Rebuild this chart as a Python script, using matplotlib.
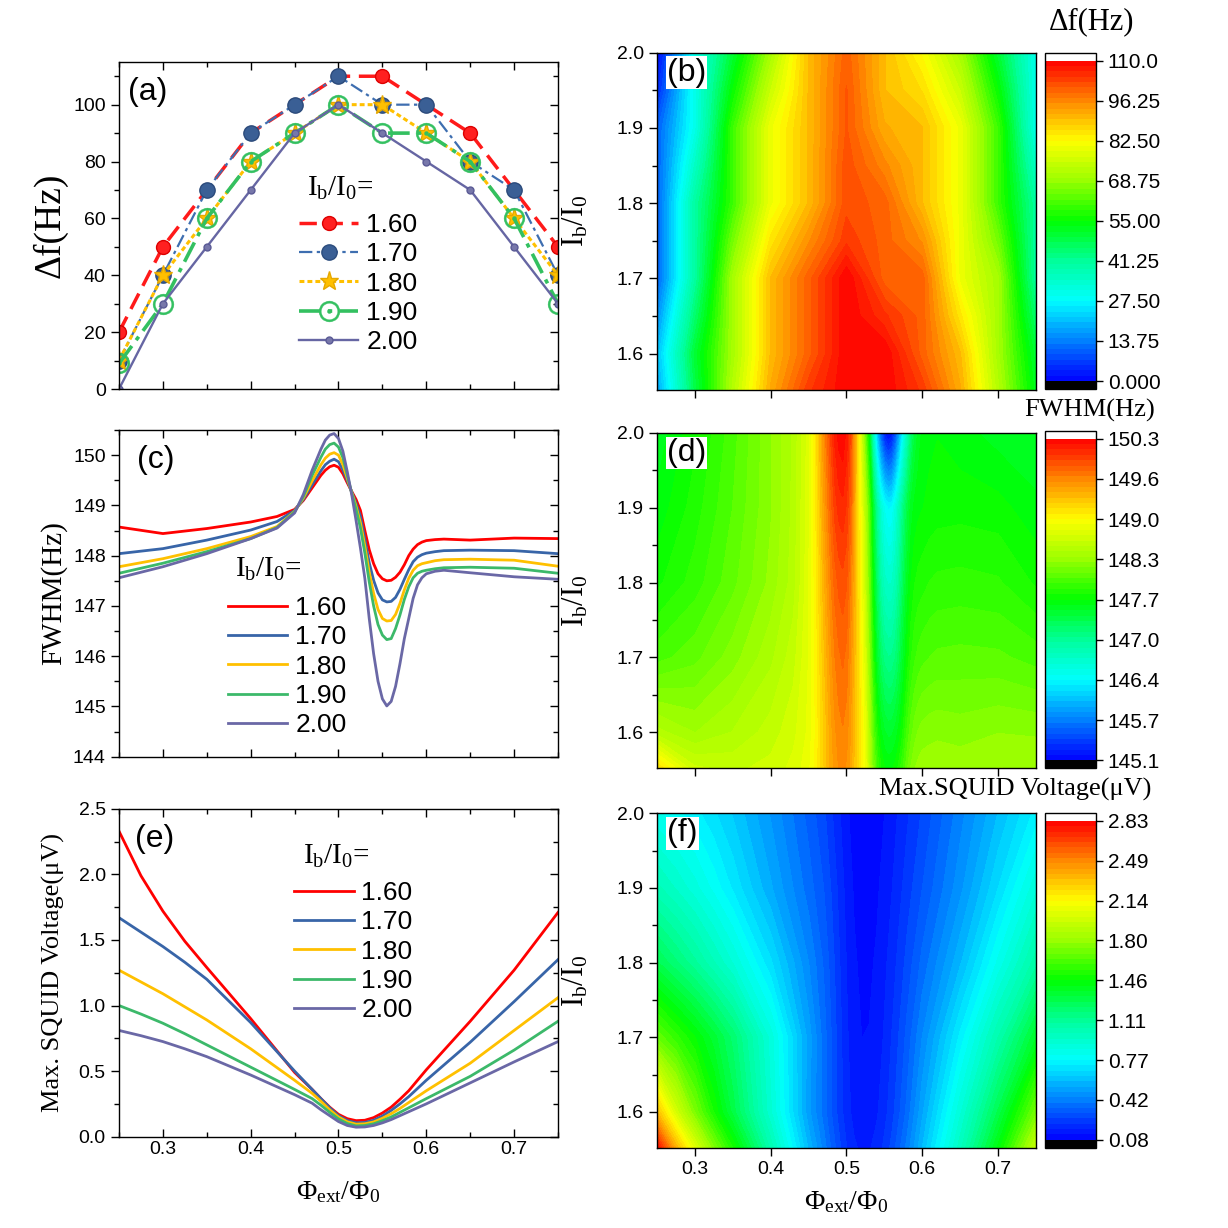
import matplotlib.pyplot as plt
import numpy as np
from matplotlib.colors import LinearSegmentedColormap
from matplotlib.ticker import MultipleLocator

plt.rcParams['font.family'] = ['Liberation Sans', 'DejaVu Sans']
plt.rcParams['mathtext.default'] = 'regular'
plt.rcParams['axes.linewidth'] = 1.0
SERIF = ['Liberation Serif', 'DejaVu Serif']

## ---------------- data ----------------
ib_labels = ['1.60', '1.70', '1.80', '1.90', '2.00']

# (a) frequency shift vs flux
phi_a = [0.25, 0.30, 0.35, 0.40, 0.45, 0.50, 0.55, 0.60, 0.65, 0.70, 0.75]
df_160 = [20, 50, 70, 90, 100, 110, 110, 100, 90, 70, 50]
df_170 = [10, 40, 70, 90, 100, 110, 100, 100, 80, 70, 40]
df_180 = [10, 40, 60, 80, 90, 100, 100, 90, 80, 60, 40]
df_190 = [9, 30, 60, 80, 90, 100, 90, 90, 80, 60, 30]
df_200 = [0, 30, 50, 70, 90, 100, 90, 80, 70, 50, 30]

# (b) frequency shift map
ib_b = [1.55, 1.60, 1.65, 1.70, 1.75, 1.80, 1.85, 1.90, 1.95, 2.00]
df_map = [
    [17, 48, 72, 92, 104, 110, 110, 104, 92, 72, 52],
    [20, 50, 70, 90, 100, 110, 110, 100, 90, 70, 50],
    [15, 45, 70, 90, 100, 110, 105, 100, 85, 70, 45],
    [10, 40, 70, 90, 100, 110, 100, 100, 80, 70, 40],
    [10, 40, 65, 85, 95, 104, 100, 95, 80, 65, 40],
    [10, 40, 60, 80, 90, 102, 100, 90, 80, 60, 40],
    [10, 35, 60, 80, 90, 102, 96, 90, 80, 60, 35],
    [10, 30, 60, 80, 90, 101, 92, 90, 80, 60, 30],
    [4, 30, 55, 75, 90, 101, 90, 86, 75, 55, 30],
    [0, 30, 50, 70, 90, 100, 90, 82, 70, 50, 30],
]

# (c) FWHM vs flux
phi_c = [0.25, 0.30, 0.35, 0.40, 0.43, 0.45, 0.46, 0.47, 0.48, 0.485, 0.49, 0.495, 0.50,
         0.505, 0.51, 0.515, 0.52, 0.525, 0.53, 0.535, 0.54, 0.545, 0.55, 0.555, 0.56,
         0.565, 0.57, 0.575, 0.58, 0.585, 0.59, 0.595, 0.60, 0.61, 0.62, 0.65, 0.70, 0.75]
fw_155 = [149.30, 148.75, 148.70, 148.75, 148.84, 148.96, 149.12, 149.34, 149.57, 149.66,
          149.72, 149.74, 149.70, 149.59, 149.43, 149.28, 149.14, 148.95, 148.60, 148.26,
          148.00, 147.82, 147.73, 147.70, 147.71, 147.76, 147.86, 148.00, 148.15, 148.27,
          148.35, 148.39, 148.41, 148.42, 148.43, 148.42, 148.45, 148.44]
fw_160 = [148.57, 148.44, 148.54, 148.67, 148.78, 148.92, 149.10, 149.35, 149.60, 149.70,
          149.77, 149.80, 149.76, 149.63, 149.45, 149.28, 149.12, 148.90, 148.50, 148.12,
          147.84, 147.64, 147.54, 147.50, 147.51, 147.57, 147.67, 147.82, 148.00, 148.13,
          148.22, 148.27, 148.30, 148.32, 148.33, 148.31, 148.35, 148.34]
fw_170 = [148.04, 148.14, 148.31, 148.51, 148.68, 148.90, 149.12, 149.41, 149.69, 149.81,
          149.88, 149.92, 149.87, 149.71, 149.49, 149.27, 149.04, 148.78, 148.33, 147.86,
          147.51, 147.26, 147.12, 147.08, 147.09, 147.17, 147.33, 147.53, 147.72, 147.88,
          147.97, 148.02, 148.05, 148.08, 148.10, 148.11, 148.10, 148.04]
fw_180 = [147.78, 147.94, 148.14, 148.38, 148.58, 148.88, 149.15, 149.49, 149.81, 149.94,
          150.02, 150.05, 150.00, 149.81, 149.54, 149.26, 148.98, 148.65, 148.19, 147.67,
          147.25, 146.93, 146.75, 146.70, 146.71, 146.83, 147.05, 147.32, 147.55, 147.71,
          147.80, 147.84, 147.86, 147.90, 147.92, 147.93, 147.91, 147.79]
fw_190 = [147.65, 147.85, 148.08, 148.34, 148.56, 148.87, 149.18, 149.60, 149.96, 150.12,
          150.21, 150.24, 150.16, 149.95, 149.60, 149.25, 148.92, 148.55, 148.05, 147.48,
          147.00, 146.63, 146.42, 146.33, 146.35, 146.55, 146.82, 147.13, 147.38, 147.56,
          147.65, 147.69, 147.71, 147.74, 147.76, 147.77, 147.75, 147.65]
fw_200 = [147.56, 147.78, 148.04, 148.34, 148.55, 148.85, 149.22, 149.70, 150.12, 150.30,
          150.40, 150.43, 150.33, 150.08, 149.67, 149.22, 148.70, 148.15, 147.55, 146.75,
          146.05, 145.50, 145.15, 145.01, 145.10, 145.40, 145.85, 146.35, 146.75, 147.15,
          147.42, 147.56, 147.64, 147.69, 147.71, 147.66, 147.58, 147.53]

# (e) max SQUID voltage vs flux
phi_e = [0.25, 0.275, 0.30, 0.325, 0.35, 0.40, 0.45, 0.47, 0.48, 0.49, 0.50, 0.51, 0.52,
         0.53, 0.54, 0.55, 0.56, 0.57, 0.58, 0.60, 0.65, 0.70, 0.75]
v_155 = [2.83, 2.38, 2.04, 1.74, 1.50, 1.02, 0.56, 0.41, 0.33, 0.26, 0.20, 0.16, 0.145,
         0.148, 0.17, 0.21, 0.26, 0.33, 0.40, 0.57, 0.97, 1.42, 1.95]
v_160 = [2.33, 1.99, 1.72, 1.49, 1.29, 0.90, 0.49, 0.36, 0.29, 0.225, 0.17, 0.137, 0.122,
         0.125, 0.145, 0.18, 0.225, 0.285, 0.35, 0.51, 0.88, 1.27, 1.71]
v_170 = [1.67, 1.56, 1.45, 1.33, 1.20, 0.87, 0.50, 0.36, 0.29, 0.22, 0.16, 0.123, 0.106,
         0.108, 0.125, 0.157, 0.20, 0.25, 0.305, 0.43, 0.72, 1.03, 1.35]
v_180 = [1.27, 1.18, 1.09, 0.99, 0.89, 0.67, 0.43, 0.33, 0.27, 0.205, 0.15, 0.113, 0.095,
         0.098, 0.112, 0.14, 0.175, 0.215, 0.26, 0.35, 0.56, 0.81, 1.06]
v_190 = [1.00, 0.935, 0.865, 0.785, 0.70, 0.53, 0.36, 0.29, 0.24, 0.185, 0.135, 0.10, 0.082,
         0.085, 0.098, 0.122, 0.15, 0.185, 0.22, 0.29, 0.46, 0.66, 0.88]
v_200 = [0.81, 0.77, 0.725, 0.67, 0.61, 0.47, 0.32, 0.255, 0.205, 0.16, 0.115, 0.085, 0.072,
         0.074, 0.085, 0.105, 0.13, 0.16, 0.19, 0.25, 0.41, 0.57, 0.725]

# rows of the (d) and (f) maps
ib_map = [1.55, 1.60, 1.70, 1.80, 1.90, 2.00]

# colorbar tick labels
cb_b_labels = ['0.000', '13.75', '27.50', '41.25', '55.00', '68.75', '82.50', '96.25', '110.0']
cb_d_labels = ['145.1', '145.7', '146.4', '147.0', '147.7', '148.3', '149.0', '149.6', '150.3']
cb_f_labels = ['0.08', '0.42', '0.77', '1.11', '1.46', '1.80', '2.14', '2.49', '2.83']

## ---------------- style ----------------
line_cols = ['#ff0000', '#3865a8', '#ffc000', '#3cb96a', '#6a68a6']
cmap = LinearSegmentedColormap.from_list('rainbow_origin', [
    (0.0, '#0000ff'), (0.125, '#0080ff'), (0.25, '#00ffff'), (0.375, '#00ff99'),
    (0.5, '#00ff00'), (0.625, '#99ff00'), (0.75, '#ffff00'), (0.875, '#ff8800'),
    (1.0, '#ff0000')])
cmap.set_over('white')
cmap.set_under('black')

fig = plt.figure(figsize=(12.28, 12.28), dpi=100)

L_X, L_W = 0.0969, 0.3575
R_X, R_W = 0.535, 0.3086
CB_X, CB_W = 0.851, 0.0415
ax_a = fig.add_axes([L_X, 0.6832, L_W, 0.2663])
ax_c = fig.add_axes([L_X, 0.3838, L_W, 0.2660])
ax_e = fig.add_axes([L_X, 0.0744, L_W, 0.2669])
ax_b = fig.add_axes([R_X, 0.6827, R_W, 0.2744])
ax_d = fig.add_axes([R_X, 0.3743, R_W, 0.2733])
ax_f = fig.add_axes([R_X, 0.0654, R_W, 0.2723])
cax_b = fig.add_axes([CB_X, 0.6832, CB_W, 0.2739])
cax_d = fig.add_axes([CB_X, 0.3743, CB_W, 0.2750])
cax_f = fig.add_axes([CB_X, 0.0654, CB_W, 0.2726])


def style_left(ax, ymaj, ymin):
    ax.set_xlim(0.25, 0.75)
    ax.xaxis.set_major_locator(MultipleLocator(0.1))
    ax.xaxis.set_minor_locator(MultipleLocator(0.05))
    ax.yaxis.set_major_locator(MultipleLocator(ymaj))
    ax.yaxis.set_minor_locator(MultipleLocator(ymin))
    ax.tick_params(which='both', top=True, right=True, labelsize=14, width=1.0)
    ax.tick_params(axis='x', which='both', direction='in')
    ax.tick_params(axis='y', which='both', direction='out')
    ax.tick_params(which='major', length=6)
    ax.tick_params(which='minor', length=3.5)
    # right-hand mirror ticks point inward
    for t in ax.yaxis.get_major_ticks() + ax.yaxis.get_minor_ticks():
        t.tick2line.set_marker(0)


def style_right(ax, show_x):
    ax.set_xlim(0.25, 0.75)
    ax.set_ylim(1.552, 2.0)
    ax.xaxis.set_major_locator(MultipleLocator(0.1))
    ax.yaxis.set_major_locator(MultipleLocator(0.1))
    ax.yaxis.set_minor_locator(MultipleLocator(0.05))
    ax.tick_params(which='both', direction='out', labelsize=14, width=1.0)
    ax.tick_params(which='major', length=6)
    ax.tick_params(which='minor', length=3.5)
    if not show_x:
        ax.tick_params(axis='x', labelbottom=False)
    ax.set_ylabel('I$_b$/I$_0$', family=SERIF, fontsize=22)
    ax.yaxis.set_label_coords(-0.175, 0.5)


def panel_tag(ax, tag, x, y, box=False):
    kw = dict(transform=ax.transAxes, fontsize=23, va='top', ha='left')
    if box:
        kw['bbox'] = dict(fc='white', ec='none', pad=1.0)
    ax.text(x, y, tag, **kw)


def add_legend(ax, x, y, tx, ty):
    ax.text(tx, ty, 'I$_b$/I$_0$=', transform=ax.transAxes, family=SERIF, fontsize=21,
            ha='left', va='center')
    ax.legend(loc='upper left', bbox_to_anchor=(x, y), frameon=False, prop={'size': 19},
              handlelength=2.25, handletextpad=0.3, labelspacing=0.2,
              borderpad=0, borderaxespad=0)


## (a)
ax_a.plot(phi_a, df_160, color='#ff1a1a', lw=2.5, ls=(0, (5, 2.5)), marker='o', ms=10,
          mfc='#ff2020', mec='#dd0000', label=ib_labels[0])
ax_a.plot(phi_a, df_170, color='#3e6eb0', lw=1.6, ls=(0, (6, 2, 1.5, 2)), marker='o', ms=11,
          mfc='#3a5f95', mec='#2b4c7d', label=ib_labels[1])
ax_a.plot(phi_a, df_180, color='#ffc000', lw=2.2, ls=(0, (1.6, 1.0)), marker='*', ms=14,
          mfc='#ffc000', mec='#e6a800', label=ib_labels[2])
ax_a.plot(phi_a, df_190, color='#33c060', lw=2.6, ls=(0, (6, 2, 1.2, 2)), marker=r'$\odot$',
          ms=15, mfc='#33c060', mec='#33c060', mew=0.3, label=ib_labels[3])
ax_a.plot(phi_a, df_200, color='#6666a3', lw=1.7, marker='o', ms=5, mfc='#7777aa',
          mec='#5a5a95', label=ib_labels[4])
ax_a.set_ylim(0, 115)
style_left(ax_a, 20, 10)
ax_a.tick_params(axis='x', labelbottom=False)
ax_a.set_ylabel('Δf(Hz)', family=SERIF, fontsize=27)
ax_a.yaxis.set_label_coords(-0.118, 0.5)
panel_tag(ax_a, '(a)', 0.02, 0.955)
add_legend(ax_a, 0.410, 0.538, 0.428, 0.615)

## (c)
for lab, col, ys in zip(ib_labels, line_cols, [fw_160, fw_170, fw_180, fw_190, fw_200]):
    ax_c.plot(phi_c, ys, color=col, lw=2, label=lab)
ax_c.set_ylim(144, 150.5)
style_left(ax_c, 1, 0.5)
ax_c.tick_params(axis='x', labelbottom=False)
ax_c.set_ylabel('FWHM(Hz)', family=SERIF, fontsize=21)
ax_c.yaxis.set_label_coords(-0.118, 0.5)
panel_tag(ax_c, '(c)', 0.04, 0.955)
add_legend(ax_c, 0.248, 0.492, 0.264, 0.572)

## (e)
for lab, col, ys in zip(ib_labels, line_cols, [v_160, v_170, v_180, v_190, v_200]):
    ax_e.plot(phi_e, ys, color=col, lw=2, label=lab)
ax_e.set_ylim(0, 2.5)
style_left(ax_e, 0.5, 0.25)
ax_e.set_ylabel('Max. SQUID Voltage(μV)', family=SERIF, fontsize=19)
ax_e.yaxis.set_label_coords(-0.123, 0.5)
ax_e.set_xlabel('Φ$_{ext}$/Φ$_0$', family=SERIF, fontsize=20)
ax_e.xaxis.set_label_coords(0.5, -0.13)
panel_tag(ax_e, '(e)', 0.036, 0.955)
add_legend(ax_e, 0.399, 0.780, 0.419, 0.854)


## maps
def draw_map(ax, cax, x, y, z, vmin, vmax, labels):
    levels = np.linspace(vmin, vmax, 61)
    cf = ax.contourf(x, y, z, levels=levels, cmap=cmap, extend='both')
    cf.set_edgecolor('face')
    cf.set_linewidth(0.3)
    cb = fig.colorbar(cf, cax=cax, extendrect=True, extendfrac=0.025)
    cb.set_ticks(np.linspace(vmin, vmax, len(labels)))
    cb.set_ticklabels(labels)
    cb.ax.tick_params(labelsize=15, length=5, width=1.0)
    cb.outline.set_linewidth(1.0)
    cb.ax.minorticks_off()
    return cf


draw_map(ax_b, cax_b, phi_a, ib_b, np.array(df_map), -0.05, 110.05, cb_b_labels)
style_right(ax_b, False)
panel_tag(ax_b, '(b)', 0.026, 0.985, box=True)

draw_map(ax_d, cax_d, phi_c, ib_map,
         np.array([fw_155, fw_160, fw_170, fw_180, fw_190, fw_200]), 144.98, 150.45, cb_d_labels)
style_right(ax_d, False)
panel_tag(ax_d, '(d)', 0.026, 0.985, box=True)

draw_map(ax_f, cax_f, phi_e, ib_map,
         np.array([v_155, v_160, v_170, v_180, v_190, v_200]), 0.06, 2.84, cb_f_labels)
style_right(ax_f, True)
ax_f.set_xlabel('Φ$_{ext}$/Φ$_0$', family=SERIF, fontsize=20)
ax_f.xaxis.set_label_coords(0.5, -0.125)
panel_tag(ax_f, '(f)', 0.026, 0.985, box=True)

fig.text(0.889, 0.982, 'Δf(Hz)', family=SERIF, fontsize=22, ha='center', va='center')
fig.text(0.9405, 0.666, 'FWHM(Hz)', family=SERIF, fontsize=19, ha='right', va='center')
fig.text(0.938, 0.357, 'Max.SQUID Voltage(μV)', family=SERIF, fontsize=19, ha='right', va='center')

fig.savefig('out.png', dpi=100)
